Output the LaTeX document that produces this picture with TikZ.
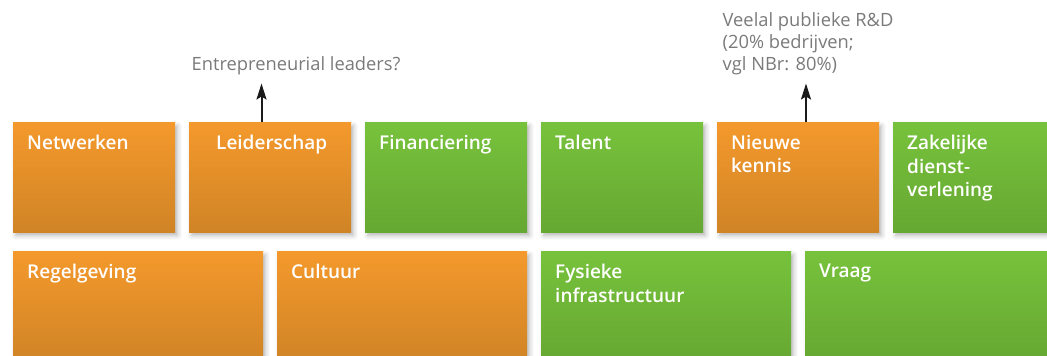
\documentclass[tikz,border=0pt]{standalone}
\usepackage{fontspec}
\setmainfont{Open Sans}
\newfontfamily\boxfont{Open Sans}[UprightFont={* Semibold}]
\usetikzlibrary{arrows.meta,calc,shadows.blur}
\definecolor{warmtop}{RGB}{244,153,44}
\definecolor{warmbot}{RGB}{208,132,38}
\definecolor{cooltop}{RGB}{119,194,60}
\definecolor{coolbot}{RGB}{102,168,50}
\definecolor{notec}{RGB}{122,122,122}
\definecolor{arrc}{RGB}{26,26,26}
\tikzset{
  cell/.style={minimum height=110pt,inner sep=0pt,anchor=north west,
    blur shadow={shadow xshift=2.5pt,shadow yshift=-3.5pt,shadow blur radius=4.5pt,shadow opacity=28}},
  small/.style={cell,minimum width=162pt},
  wide/.style={cell,minimum width=250pt},
  warm/.style={top color=warmtop,bottom color=warmbot},
  cool/.style={top color=cooltop,bottom color=coolbot},
  lbl/.style={font=\boxfont\fontsize{19}{23.5}\selectfont,text=white,align=left,anchor=north west,inner sep=0pt},
  note/.style={font=\fontsize{18.3}{22.3}\selectfont,text=notec,align=left,inner sep=0pt},
  arr/.style={-{Stealth[length=16pt,width=10pt,inset=3pt]},arrc,line width=2pt},
}

\begin{document}
\begin{tikzpicture}[x=1pt,y=-1pt]% pixel grid, y runs down
\useasboundingbox (0,0) rectangle (1047,356);
% ---- top row: six narrow factors ----
\foreach \tk/\cl/\tx [count=\i] in {Netwerken/warm/14, Leiderschap/warm/27, Financiering/cool/14,
    Talent/cool/14, {Nieuwe\\kennis}/warm/14, {Zakelijke\\dienst-\\verlening}/cool/14}{
  \pgfmathsetmacro{\x}{13+176*(\i-1)}
  \node[small,\cl] (b\i) at (\x,122) {};
  \node[lbl] (t\i) at ($(b\i.north west)+(\tx,13)$) {\tk};
}
% ---- bottom row: four wide factors ----
\foreach \tk/\cl [count=\i] in {Regelgeving/warm, Cultuur/warm, {Fysieke\\infrastructuur}/cool, Vraag/cool}{
  \pgfmathsetmacro{\x}{13+264*(\i-1)}
  \node[wide,\cl] (w\i) at (\x,251) {};
  \node[lbl] (u\i) at ($(w\i.north west)+(14,13)$) {\tk};
}
% ---- notes ----
\node[note,anchor=base west] (n2) at (191.5,70) {Entrepreneurial leaders?};
\node[note,anchor=north west] (n5) at (722.5,12) {Veelal publieke R\&D\\(20\% bedrijven;\\vgl NBr: 80\%)};
\coordinate (a2) at (261.5,83.5);
\coordinate (a5) at (806,83.5);
\draw[arr] (b2.north -| a2) -- (a2);
\draw[arr] (b5.north -| a5) -- (a5);
\end{tikzpicture}
\end{document}
